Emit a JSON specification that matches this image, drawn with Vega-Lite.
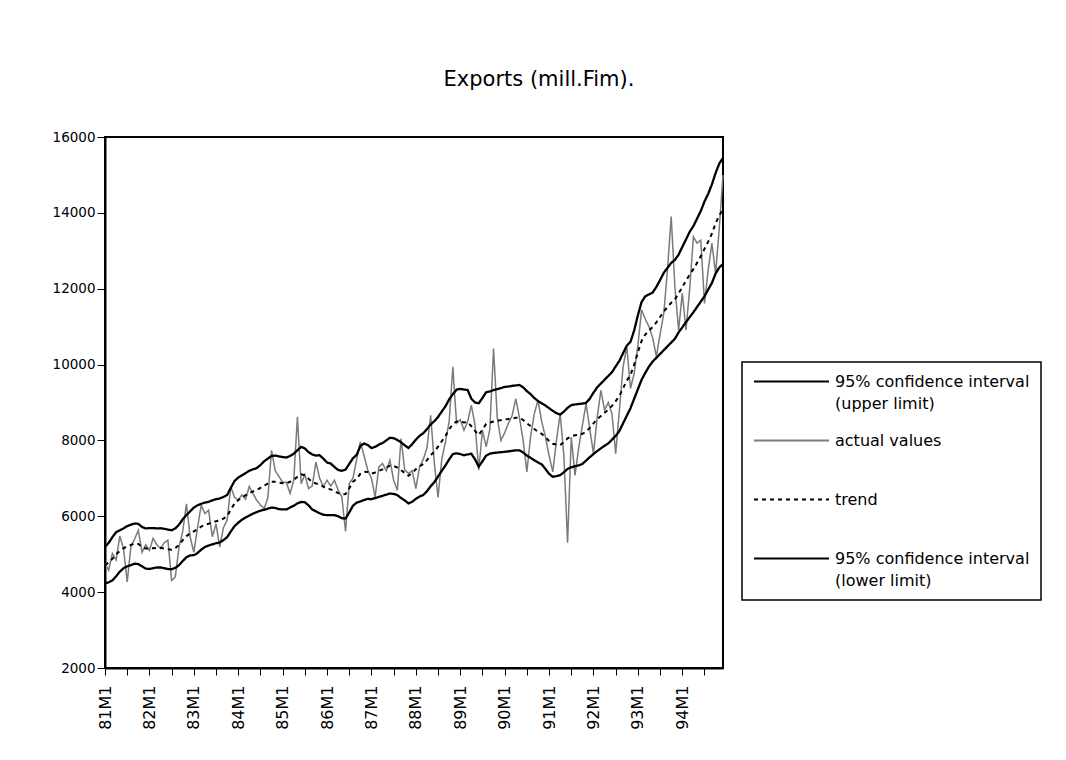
{
 "$schema": "https://vega.github.io/schema/vega-lite/v6.json",
 "width": 618,
 "height": 531,
 "autosize": {"type": "none"},
 "padding": {"left": 105, "top": 137, "right": 343, "bottom": 92},
 "background": "white",
 "title": {"text": "Exports (mill.Fim).", "font": "DejaVu Sans", "fontSize": 21, "fontWeight": "normal", "color": "black", "anchor": "middle", "dx": 125, "dy": 27, "offset": 50, "baseline": "alphabetic"},
 "config": {"view": {"stroke": "black", "strokeWidth": 2}, "font": "DejaVu Sans"},
 "data": {"values": [
{"t":0,"upper":5190,"actual":4750,"trend":4710,"lower":4226},
{"t":1,"upper":5300,"actual":4580,"trend":4780,"lower":4260},
{"t":2,"upper":5450,"actual":5020,"trend":4880,"lower":4310},
{"t":3,"upper":5580,"actual":4850,"trend":5000,"lower":4420},
{"t":4,"upper":5630,"actual":5480,"trend":5085,"lower":4540},
{"t":5,"upper":5680,"actual":5150,"trend":5155,"lower":4630},
{"t":6,"upper":5740,"actual":4270,"trend":5210,"lower":4680},
{"t":7,"upper":5780,"actual":5200,"trend":5245,"lower":4710},
{"t":8,"upper":5810,"actual":5400,"trend":5280,"lower":4750},
{"t":9,"upper":5800,"actual":5630,"trend":5270,"lower":4740},
{"t":10,"upper":5720,"actual":5050,"trend":5200,"lower":4680},
{"t":11,"upper":5680,"actual":5250,"trend":5150,"lower":4620},
{"t":12,"upper":5690,"actual":5100,"trend":5150,"lower":4610},
{"t":13,"upper":5690,"actual":5420,"trend":5160,"lower":4630},
{"t":14,"upper":5680,"actual":5250,"trend":5165,"lower":4650},
{"t":15,"upper":5685,"actual":5150,"trend":5168,"lower":4650},
{"t":16,"upper":5670,"actual":5300,"trend":5150,"lower":4630},
{"t":17,"upper":5650,"actual":5370,"trend":5130,"lower":4610},
{"t":18,"upper":5630,"actual":4310,"trend":5117,"lower":4604},
{"t":19,"upper":5680,"actual":4400,"trend":5160,"lower":4640},
{"t":20,"upper":5780,"actual":5190,"trend":5245,"lower":4710},
{"t":21,"upper":5920,"actual":5600,"trend":5370,"lower":4820},
{"t":22,"upper":6030,"actual":6330,"trend":5475,"lower":4920},
{"t":23,"upper":6130,"actual":5460,"trend":5550,"lower":4970},
{"t":24,"upper":6230,"actual":5050,"trend":5600,"lower":4975},
{"t":25,"upper":6290,"actual":5700,"trend":5660,"lower":5030},
{"t":26,"upper":6330,"actual":6290,"trend":5725,"lower":5120},
{"t":27,"upper":6360,"actual":6070,"trend":5775,"lower":5190},
{"t":28,"upper":6380,"actual":6160,"trend":5805,"lower":5230},
{"t":29,"upper":6420,"actual":5460,"trend":5840,"lower":5260},
{"t":30,"upper":6450,"actual":5800,"trend":5870,"lower":5290},
{"t":31,"upper":6470,"actual":5190,"trend":5890,"lower":5310},
{"t":32,"upper":6510,"actual":5700,"trend":5940,"lower":5370},
{"t":33,"upper":6560,"actual":5900,"trend":6005,"lower":5450},
{"t":34,"upper":6750,"actual":6780,"trend":6175,"lower":5600},
{"t":35,"upper":6930,"actual":6500,"trend":6335,"lower":5740},
{"t":36,"upper":7020,"actual":6430,"trend":6425,"lower":5830},
{"t":37,"upper":7080,"actual":6560,"trend":6495,"lower":5910},
{"t":38,"upper":7140,"actual":6450,"trend":6555,"lower":5970},
{"t":39,"upper":7200,"actual":6790,"trend":6610,"lower":6020},
{"t":40,"upper":7240,"actual":6600,"trend":6655,"lower":6070},
{"t":41,"upper":7270,"actual":6420,"trend":6690,"lower":6110},
{"t":42,"upper":7350,"actual":6300,"trend":6750,"lower":6150},
{"t":43,"upper":7450,"actual":6200,"trend":6810,"lower":6170},
{"t":44,"upper":7520,"actual":6480,"trend":6860,"lower":6200},
{"t":45,"upper":7590,"actual":7740,"trend":6910,"lower":6230},
{"t":46,"upper":7600,"actual":7200,"trend":6910,"lower":6220},
{"t":47,"upper":7580,"actual":7050,"trend":6885,"lower":6190},
{"t":48,"upper":7560,"actual":6900,"trend":6870,"lower":6180},
{"t":49,"upper":7550,"actual":6900,"trend":6865,"lower":6180},
{"t":50,"upper":7590,"actual":6600,"trend":6910,"lower":6230},
{"t":51,"upper":7650,"actual":6950,"trend":6965,"lower":6280},
{"t":52,"upper":7740,"actual":8620,"trend":7040,"lower":6340},
{"t":53,"upper":7830,"actual":6860,"trend":7105,"lower":6380},
{"t":54,"upper":7790,"actual":7100,"trend":7080,"lower":6370},
{"t":55,"upper":7690,"actual":6730,"trend":6990,"lower":6290},
{"t":56,"upper":7630,"actual":6800,"trend":6905,"lower":6180},
{"t":57,"upper":7600,"actual":7430,"trend":6865,"lower":6130},
{"t":58,"upper":7610,"actual":7000,"trend":6845,"lower":6080},
{"t":59,"upper":7520,"actual":6780,"trend":6780,"lower":6040},
{"t":60,"upper":7420,"actual":6950,"trend":6725,"lower":6030},
{"t":61,"upper":7390,"actual":6800,"trend":6710,"lower":6030},
{"t":62,"upper":7300,"actual":6950,"trend":6665,"lower":6030},
{"t":63,"upper":7220,"actual":6690,"trend":6610,"lower":6000},
{"t":64,"upper":7200,"actual":6510,"trend":6575,"lower":5950},
{"t":65,"upper":7230,"actual":5600,"trend":6585,"lower":5940},
{"t":66,"upper":7380,"actual":6860,"trend":6740,"lower":6100},
{"t":67,"upper":7530,"actual":7000,"trend":6905,"lower":6280},
{"t":68,"upper":7620,"actual":7500,"trend":6990,"lower":6360},
{"t":69,"upper":7850,"actual":7960,"trend":7120,"lower":6390},
{"t":70,"upper":7920,"actual":7600,"trend":7175,"lower":6430},
{"t":71,"upper":7880,"actual":7220,"trend":7170,"lower":6460},
{"t":72,"upper":7800,"actual":7000,"trend":7125,"lower":6450},
{"t":73,"upper":7830,"actual":6510,"trend":7155,"lower":6480},
{"t":74,"upper":7890,"actual":7300,"trend":7200,"lower":6510},
{"t":75,"upper":7930,"actual":7390,"trend":7235,"lower":6540},
{"t":76,"upper":8000,"actual":7200,"trend":7285,"lower":6570},
{"t":77,"upper":8070,"actual":7480,"trend":7335,"lower":6600},
{"t":78,"upper":8060,"actual":6950,"trend":7325,"lower":6590},
{"t":79,"upper":8010,"actual":6690,"trend":7285,"lower":6560},
{"t":80,"upper":7950,"actual":8050,"trend":7215,"lower":6480},
{"t":81,"upper":7870,"actual":7220,"trend":7145,"lower":6420},
{"t":82,"upper":7800,"actual":7130,"trend":7070,"lower":6340},
{"t":83,"upper":7900,"actual":7200,"trend":7140,"lower":6380},
{"t":84,"upper":8020,"actual":6730,"trend":7240,"lower":6460},
{"t":85,"upper":8120,"actual":7300,"trend":7320,"lower":6520},
{"t":86,"upper":8190,"actual":7500,"trend":7375,"lower":6560},
{"t":87,"upper":8300,"actual":7800,"trend":7480,"lower":6660},
{"t":88,"upper":8420,"actual":8660,"trend":7605,"lower":6790},
{"t":89,"upper":8510,"actual":7400,"trend":7705,"lower":6900},
{"t":90,"upper":8620,"actual":6500,"trend":7835,"lower":7050},
{"t":91,"upper":8760,"actual":7500,"trend":7980,"lower":7200},
{"t":92,"upper":8900,"actual":7960,"trend":8120,"lower":7340},
{"t":93,"upper":9080,"actual":8500,"trend":8290,"lower":7500},
{"t":94,"upper":9220,"actual":9940,"trend":8430,"lower":7640},
{"t":95,"upper":9340,"actual":8450,"trend":8500,"lower":7660},
{"t":96,"upper":9360,"actual":8550,"trend":8500,"lower":7640},
{"t":97,"upper":9340,"actual":8270,"trend":8475,"lower":7610},
{"t":98,"upper":9330,"actual":8500,"trend":8480,"lower":7630},
{"t":99,"upper":9100,"actual":8930,"trend":8375,"lower":7650},
{"t":100,"upper":9000,"actual":8400,"trend":8250,"lower":7500},
{"t":101,"upper":8980,"actual":7220,"trend":8145,"lower":7310},
{"t":102,"upper":9120,"actual":8270,"trend":8285,"lower":7450},
{"t":103,"upper":9270,"actual":7830,"trend":8435,"lower":7600},
{"t":104,"upper":9290,"actual":8300,"trend":8470,"lower":7650},
{"t":105,"upper":9330,"actual":10420,"trend":8500,"lower":7670},
{"t":106,"upper":9350,"actual":8600,"trend":8515,"lower":7680},
{"t":107,"upper":9380,"actual":8000,"trend":8535,"lower":7690},
{"t":108,"upper":9410,"actual":8200,"trend":8555,"lower":7700},
{"t":109,"upper":9420,"actual":8450,"trend":8565,"lower":7710},
{"t":110,"upper":9440,"actual":8650,"trend":8580,"lower":7725},
{"t":111,"upper":9450,"actual":9100,"trend":8595,"lower":7740},
{"t":112,"upper":9460,"actual":8600,"trend":8600,"lower":7740},
{"t":113,"upper":9400,"actual":8000,"trend":8540,"lower":7680},
{"t":114,"upper":9300,"actual":7170,"trend":8450,"lower":7600},
{"t":115,"upper":9220,"actual":8100,"trend":8380,"lower":7540},
{"t":116,"upper":9120,"actual":8700,"trend":8300,"lower":7480},
{"t":117,"upper":9040,"actual":9060,"trend":8230,"lower":7420},
{"t":118,"upper":8980,"actual":8500,"trend":8175,"lower":7370},
{"t":119,"upper":8920,"actual":8100,"trend":8085,"lower":7250},
{"t":120,"upper":8850,"actual":7600,"trend":7985,"lower":7120},
{"t":121,"upper":8780,"actual":7170,"trend":7910,"lower":7040},
{"t":122,"upper":8720,"actual":8000,"trend":7890,"lower":7060},
{"t":123,"upper":8680,"actual":8710,"trend":7880,"lower":7085},
{"t":124,"upper":8760,"actual":7600,"trend":7960,"lower":7160},
{"t":125,"upper":8860,"actual":5300,"trend":8055,"lower":7250},
{"t":126,"upper":8930,"actual":8090,"trend":8110,"lower":7290},
{"t":127,"upper":8950,"actual":7080,"trend":8135,"lower":7320},
{"t":128,"upper":8960,"actual":7800,"trend":8150,"lower":7340},
{"t":129,"upper":8970,"actual":8400,"trend":8175,"lower":7380},
{"t":130,"upper":8990,"actual":8970,"trend":8230,"lower":7470},
{"t":131,"upper":9100,"actual":8300,"trend":8330,"lower":7560},
{"t":132,"upper":9260,"actual":7650,"trend":8450,"lower":7640},
{"t":133,"upper":9400,"actual":8600,"trend":8560,"lower":7720},
{"t":134,"upper":9500,"actual":9320,"trend":8645,"lower":7790},
{"t":135,"upper":9600,"actual":8800,"trend":8730,"lower":7860},
{"t":136,"upper":9700,"actual":9000,"trend":8810,"lower":7920},
{"t":137,"upper":9800,"actual":8700,"trend":8910,"lower":8020},
{"t":138,"upper":9950,"actual":7650,"trend":9035,"lower":8120},
{"t":139,"upper":10100,"actual":8800,"trend":9175,"lower":8250},
{"t":140,"upper":10300,"actual":9940,"trend":9375,"lower":8450},
{"t":141,"upper":10500,"actual":10470,"trend":9575,"lower":8650},
{"t":142,"upper":10600,"actual":9370,"trend":9725,"lower":8850},
{"t":143,"upper":10900,"actual":9770,"trend":10000,"lower":9100},
{"t":144,"upper":11300,"actual":10500,"trend":10325,"lower":9350},
{"t":145,"upper":11650,"actual":11440,"trend":10625,"lower":9600},
{"t":146,"upper":11800,"actual":11200,"trend":10790,"lower":9780},
{"t":147,"upper":11850,"actual":11000,"trend":10900,"lower":9950},
{"t":148,"upper":11900,"actual":10700,"trend":10990,"lower":10080},
{"t":149,"upper":12050,"actual":10210,"trend":11115,"lower":10180},
{"t":150,"upper":12230,"actual":10800,"trend":11255,"lower":10280},
{"t":151,"upper":12420,"actual":11350,"trend":11400,"lower":10380},
{"t":152,"upper":12550,"actual":12500,"trend":11515,"lower":10480},
{"t":153,"upper":12680,"actual":13900,"trend":11630,"lower":10580},
{"t":154,"upper":12760,"actual":12050,"trend":11720,"lower":10680},
{"t":155,"upper":12900,"actual":10910,"trend":11875,"lower":10850},
{"t":156,"upper":13100,"actual":11880,"trend":12040,"lower":10980},
{"t":157,"upper":13300,"actual":10910,"trend":12210,"lower":11120},
{"t":158,"upper":13500,"actual":12000,"trend":12375,"lower":11250},
{"t":159,"upper":13650,"actual":13370,"trend":12515,"lower":11380},
{"t":160,"upper":13850,"actual":13200,"trend":12685,"lower":11520},
{"t":161,"upper":14050,"actual":13280,"trend":12855,"lower":11660},
{"t":162,"upper":14300,"actual":11610,"trend":13050,"lower":11800},
{"t":163,"upper":14500,"actual":12500,"trend":13240,"lower":11980},
{"t":164,"upper":14750,"actual":13200,"trend":13450,"lower":12150},
{"t":165,"upper":15050,"actual":12400,"trend":13725,"lower":12400},
{"t":166,"upper":15300,"actual":13600,"trend":13930,"lower":12560},
{"t":167,"upper":15450,"actual":15000,"trend":14100,"lower":12650}
 ]},
 "transform": [{"fold": ["upper", "actual", "trend", "lower"], "as": ["series", "value"]}],
 "encoding": {
  "x": {"field": "t", "type": "quantitative",
   "scale": {"domain": [0, 167], "nice": false, "zero": false},
   "axis": {"values": [0,6,12,18,24,30,36,42,48,54,60,66,72,78,84,90,96,102,108,114,120,126,132,138,144,150,156,162],
    "labelExpr": "datum.value % 12 == 0 ? (81 + datum.value / 12) + 'M1' : ''",
    "labelAngle": 270, "labelAlign": "right", "labelBaseline": "middle",
    "labelFont": "DejaVu Sans", "labelFontSize": 16, "labelColor": "black",
    "tickColor": "black", "tickSize": 7, "tickWidth": 1,
    "domainColor": "black", "domainWidth": 2, "labelPadding": 10,
    "grid": false, "title": null, "labelOverlap": false, "labelFlush": false}},
  "y": {"field": "value", "type": "quantitative",
   "scale": {"domain": [2000, 16000], "nice": false, "zero": false},
   "axis": {"values": [2000,4000,6000,8000,10000,12000,14000,16000], "format": "d",
    "labelFont": "DejaVu Sans", "labelFontSize": 13.5, "labelColor": "black",
    "tickColor": "black", "tickSize": 8, "tickWidth": 1,
    "domainColor": "black", "domainWidth": 2, "labelPadding": 2,
    "grid": false, "title": null, "labelFlush": false}},
  "color": {"field": "series", "type": "nominal",
   "scale": {"domain": ["upper", "actual", "trend", "lower"], "range": ["black", "#7a7a7a", "black", "black"]},
   "legend": {"title": null, "orient": "none", "legendX": 637, "legendY": 225,
    "symbolType": "M-1,0H9", "symbolSize": 225, "symbolStrokeWidth": 2,
    "labelFont": "DejaVu Sans", "labelFontSize": 16, "labelColor": "black", "labelOffset": 65, "labelLimit": 400,
    "padding": 11, "strokeColor": "black", "fillColor": "white", "rowPadding": 20,
    "labelExpr": "datum.label == 'upper' ? ['95% confidence interval', '(upper limit)'] : datum.label == 'actual' ? ['actual values', ''] : datum.label == 'trend' ? ['trend', ''] : ['\u00a095% confidence interval', '(lower limit)']",
    "encode": {"labels": {"update": {"lineHeight": {"value": 22}}}, "legend": {"update": {"strokeWidth": {"value": 1.5}}}}}},
  "strokeDash": {"field": "series", "type": "nominal",
   "scale": {"domain": ["upper", "actual", "trend", "lower"], "range": [[1, 0], [1, 0], [4, 4], [1, 0]]},
   "legend": {"title": null, "orient": "none", "legendX": 637, "legendY": 225,
    "symbolType": "M-1,0H9", "symbolSize": 225, "symbolStrokeWidth": 2,
    "labelFont": "DejaVu Sans", "labelFontSize": 16, "labelColor": "black", "labelOffset": 65, "labelLimit": 400,
    "padding": 11, "strokeColor": "black", "fillColor": "white", "rowPadding": 20,
    "labelExpr": "datum.label == 'upper' ? ['95% confidence interval', '(upper limit)'] : datum.label == 'actual' ? ['actual values', ''] : datum.label == 'trend' ? ['trend', ''] : ['\u00a095% confidence interval', '(lower limit)']",
    "encode": {"labels": {"update": {"lineHeight": {"value": 22}}}, "legend": {"update": {"strokeWidth": {"value": 1.5}}}}}}
 },
 "layer": [
  {"transform": [{"filter": "datum.series == 'actual'"}], "mark": {"type": "line", "strokeWidth": 1.5}},
  {"transform": [{"filter": "datum.series == 'trend'"}], "mark": {"type": "line", "strokeWidth": 2}},
  {"transform": [{"filter": "datum.series == 'upper' || datum.series == 'lower'"}], "mark": {"type": "line", "strokeWidth": 2.3}}
 ]
}
